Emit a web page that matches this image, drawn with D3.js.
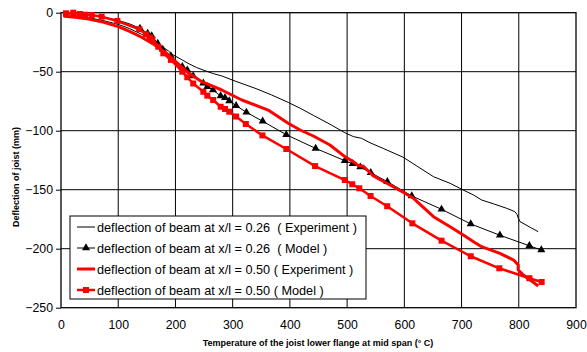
<!DOCTYPE html>
<html><head><meta charset="utf-8">
<script src="https://cdn.jsdelivr.net/npm/d3@7"></script>
<style>
body{margin:0;background:#fff;}
svg{display:block;font-family:"Liberation Sans",Arial,sans-serif;}
</style></head><body>
<svg id="c" width="587" height="352"></svg>
<script>
// Data (temperature °C, deflection mm)
const xTicks = [0,100,200,300,400,500,600,700,800,900];
const yTicks = [0,-50,-100,-150,-200,-250];
const seriesNames = [
  "deflection of beam at x/l = 0.26  ( Experiment )",
  "deflection of beam at x/l = 0.26  ( Model )",
  "deflection of beam at x/l = 0.50 ( Experiment )",
  "deflection of beam at x/l = 0.50 ( Model )"
];
const exp026 = [[7,-1.4],[25,-2.5],[48,-4.2],[75,-6.8],[100,-9.9],[120,-13.5],[141,-18.3],[164,-24.6],[188,-32.5],[194,-35.3],[210,-39.5],[222,-42.9],[237,-46.5],[252,-49.2],[266,-51.6],[281,-53.6],[304,-57.9],[339,-64],[368,-69.7],[397,-76],[418,-81],[441,-87],[470,-94.5],[496,-101.7],[511,-105],[525,-106.4],[540,-110.2],[563,-115],[598,-122.5],[622,-130],[651,-139],[680,-144.6],[703,-150.3],[721,-154.5],[735,-158.7],[756,-162],[779,-165.8],[793,-168.6],[797,-171],[799,-174],[802,-177],[820,-181.9],[834,-185.6]];
const mod026 = [[20,0],[35,-1],[55,-2.3],[75,-4],[100,-6.5],[120,-9.5],[138,-13.2],[151.5,-17.5],[158.5,-19.7],[169,-26],[177.7,-31],[192,-36.7],[212,-45.8],[220.7,-48.6],[231,-53.6],[248.7,-59.8],[255.7,-62.7],[265.6,-65.5],[279,-70.6],[286.6,-72],[294,-74.8],[306,-78.8],[324,-84.4],[352.5,-92],[393.7,-103.4],[445,-115],[496,-125.4],[509.8,-128],[523,-130.8],[541.3,-135.6],[570.3,-143.2],[613,-155.3],[665,-166.6],[716,-179],[767,-188.6],[818.5,-197.5],[839.4,-201.1]];
const mod026Markers = [138,151.5,158.5,169,177.7,192,212,220.7,231,248.7,255.7,265.6,279,286.6,294,306,324,352.5,393.7,445,496,509.8,523,541.3,570.3,613,665,716,767,818.5,839.4];
const exp050 = [[6,0],[6,-3],[25,-3.8],[48,-5.3],[75,-8.2],[100,-11.8],[120,-15.8],[141,-20.8],[164,-27.4],[188,-35.8],[199,-41],[220,-50],[246,-58.5],[281,-65.5],[316,-74],[362,-82.5],[397,-93.7],[418,-99.4],[441,-104.5],[470,-112.1],[496,-122],[511,-126.3],[520,-129.8],[528,-130],[546,-138.4],[575,-146],[601,-153],[616,-157.3],[651,-172.9],[680,-181.4],[703,-188.4],[721,-194.1],[735,-198.3],[767,-203.9],[791,-209.6],[799,-213.8],[799,-218],[808,-222.3],[820,-226.5],[834,-231.6]];
const mod050 = [[8.7,-0.5],[21.5,0],[33,-1.1],[42,-1.7],[53.6,-2],[71,-3.4],[98.4,-7],[137,-14],[148.5,-18.3],[155.5,-21],[159.6,-23],[170,-28.8],[178.8,-34.4],[192,-40],[212,-50],[220.7,-54.7],[231,-60],[248.7,-67],[255.7,-70.3],[266,-74],[279,-79.7],[286.6,-81.6],[294,-83.9],[306,-88],[323,-94.3],[352,-104],[393.7,-115.5],[444,-130],[496,-141.8],[509,-145.4],[521.3,-148.8],[541,-155.3],[570,-164],[614,-178.5],[665,-193.2],[716,-206.4],[766,-216.6],[818.5,-225],[840,-228.2]];

const svg = d3.select("#c");
const L = 61, R = 576, T = 12.7, B = 307.7;
const x = d3.scaleLinear().domain([0,900]).range([L,R]);
const y = d3.scaleLinear().domain([0,-250]).range([T,B]);

// gridlines
svg.append("g").selectAll("line").data(xTicks.slice(1,-1)).join("line")
  .attr("x1",d=>x(d)).attr("x2",d=>x(d)).attr("y1",T).attr("y2",B)
  .attr("stroke","#000").attr("stroke-width",1);
svg.append("g").selectAll("line").data(yTicks.slice(1,-1)).join("line")
  .attr("x1",L).attr("x2",R).attr("y1",d=>y(d)).attr("y2",d=>y(d))
  .attr("stroke","#000").attr("stroke-width",1);
svg.append("rect").attr("x",L).attr("y",T).attr("width",R-L).attr("height",B-T)
  .attr("fill","none").attr("stroke","#000").attr("stroke-width",1.3);

// axes
const ya = svg.append("g").attr("transform",`translate(${L},0)`)
  .call(d3.axisLeft(y).tickValues(yTicks).tickSize(5).tickPadding(3).tickFormat(d3.format("d")));
const xa = svg.append("g").attr("transform",`translate(0,${B})`)
  .call(d3.axisBottom(x).tickValues(xTicks).tickSize(0).tickPadding(13).tickFormat(d3.format("d")));
[ya,xa].forEach(a=>{a.select(".domain").remove();
  a.selectAll("text").attr("font-size",12.3).attr("fill","#000").attr("font-family","'Liberation Sans',Arial,sans-serif");
  a.selectAll("line").attr("stroke","#000");});

// titles
svg.append("text").attr("x",318).attr("y",346).attr("text-anchor","middle")
  .attr("font-size",9).attr("font-weight","bold").text("Temperature of the joist lower flange at mid span (° C)");
svg.append("text").attr("transform","translate(19,177) rotate(-90)").attr("text-anchor","middle")
  .attr("font-size",9).attr("font-weight","bold").text("Deflection of joist (mm)");

const line = d3.line().x(d=>x(d[0])).y(d=>y(d[1])).curve(d3.curveLinear);
const g = svg.append("g");
g.append("path").datum(exp026).attr("d",line).attr("fill","none").attr("stroke","#000").attr("stroke-width",1);
g.append("path").datum(mod026).attr("d",line).attr("fill","none").attr("stroke","#000").attr("stroke-width",1);
const tri = d3.symbol().type(d3.symbolTriangle).size(28);
g.selectAll(".tri").data(mod026.filter(d=>mod026Markers.includes(d[0]))).join("path")
  .attr("d",tri).attr("transform",d=>`translate(${x(d[0])},${y(d[1])})`).attr("fill","#000");
g.append("path").datum(exp050).attr("d",line).attr("fill","none").attr("stroke","#ff0000").attr("stroke-width",3).attr("stroke-linejoin","round");
g.append("path").datum(mod050).attr("d",line).attr("fill","none").attr("stroke","#ff0000").attr("stroke-width",2.5).attr("stroke-linejoin","round");
g.selectAll(".sq").data(mod050).join("rect")
  .attr("x",d=>x(d[0])-3).attr("y",d=>y(d[1])-3).attr("width",6).attr("height",6).attr("fill","#ff0000");

// legend
const lg = svg.append("g");
lg.append("rect").attr("x",70).attr("y",216).attr("width",296).attr("height",83)
  .attr("fill","#fff").attr("stroke","#000").attr("stroke-width",1);
const rowsY = [227,248,269,290];
const styles = [
  {c:"#000",w:1,m:null},{c:"#000",w:1,m:"tri"},{c:"#ff0000",w:3,m:null},{c:"#ff0000",w:2.5,m:"sq"}];
seriesNames.forEach((n,i)=>{
  const yy = rowsY[i], s = styles[i];
  lg.append("line").attr("x1",77).attr("x2",95).attr("y1",yy).attr("y2",yy).attr("stroke",s.c).attr("stroke-width",s.w);
  if(s.m==="tri") lg.append("path").attr("d",tri).attr("transform",`translate(86,${yy})`).attr("fill","#000");
  if(s.m==="sq") lg.append("rect").attr("x",83).attr("y",yy-3).attr("width",6).attr("height",6).attr("fill","#ff0000");
  lg.append("text").attr("x",97).attr("y",yy+4.5).attr("font-size",12.7).attr("fill","#000")
    .attr("xml:space","preserve").style("white-space","pre").text(n);
});
</script>
</body></html>
